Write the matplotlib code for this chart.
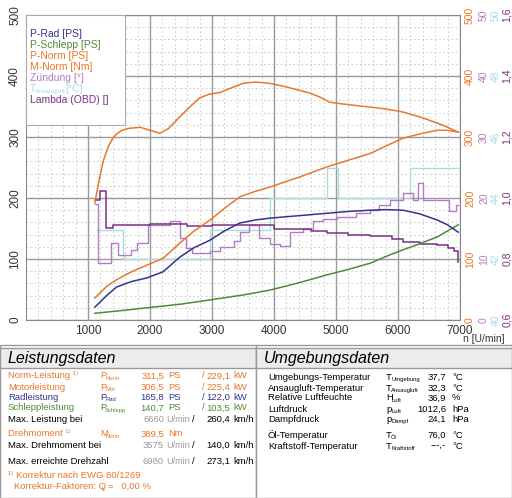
import matplotlib
matplotlib.use("Agg")
import matplotlib.pyplot as plt
from matplotlib.ticker import MultipleLocator
from matplotlib.patches import Rectangle

plt.rcParams['font.family'] = ['Liberation Sans', 'DejaVu Sans']

ORANGE = "#e8782a"; BLUE = "#34348f"; GREEN = "#4f8a35"
LPURP = "#b27cc4"; CYAN = "#a9dde2"; PURP = "#7a2f86"; GRAY = "#9a9a9a"

# --- data (left scale units 0..500) ---
rpm_s = [1110, 1180, 1250, 1330, 1400, 1460, 1550, 1650, 1840, 2000, 2160, 2300, 2480, 2650, 2800, 2950, 3130, 3300, 3500, 3700, 3935, 4200, 4580, 4750, 4900, 5200, 5550, 5800, 6080, 6350, 6630, 6800, 6970]
m_norm = [192, 230, 262, 285, 298, 305, 311, 314, 316, 311, 306, 314, 333, 350, 364, 370, 373, 380, 388, 390, 388, 382, 372, 365, 357, 353, 349, 346, 341, 333, 323, 316, 308]
rpm_p = [1110, 1300, 1460, 1700, 1950, 2210, 2480, 2700, 2970, 3200, 3450, 3700, 3935, 4400, 4855, 5200, 5550, 5800, 6080, 6350, 6630, 6800, 6970]
p_norm = [36, 55, 66, 79, 90, 101, 126, 145, 164, 183, 202, 211, 218, 234, 251, 262, 273, 285, 298, 305, 311, 311, 308]
p_rad = [21, 40, 54, 63, 69, 79, 103, 118, 131, 146, 159, 164, 167, 171, 175, 178, 180, 181, 180, 174, 164, 156, 144]
rpm_g = [1110, 1500, 1950, 2500, 2970, 3500, 3935, 4400, 4855, 5200, 5550, 5800, 6080, 6350, 6630, 6800, 6970]
p_schlepp = [11, 15, 20, 26, 33, 41, 49, 61, 74, 83, 93, 104, 115, 125, 136, 146, 156]

rpm_l = [1110, 1200, 1290, 1400, 2000, 2600, 3000, 3600, 4000, 4600, 4850, 5200, 5550, 5900, 6080, 6350, 6630, 6800, 6900, 6970]
lam = [197, 211, 151, 156, 158, 154, 156, 156, 150, 146, 143, 140, 138, 132, 128, 125, 123, 118, 113, 95]

rpm_z = [1110, 1160, 1370, 1480, 1690, 1790, 1960, 2330, 2480, 2580, 2680, 2970, 3130, 3350, 3450, 3600, 3760, 3935, 4100, 4260, 4470, 4630, 4790, 5010, 5330, 5550, 5700, 5870, 6080, 6240, 6320, 6400, 6830, 6940, 6970]
zuend = [190, 93, 126, 107, 115, 126, 156, 162, 134, 118, 110, 113, 120, 130, 145, 156, 134, 125, 122, 145, 150, 162, 166, 169, 175, 180, 188, 197, 208, 197, 224, 197, 178, 188, 188]

rpm_t = [1140, 1570, 2968, 3935, 4850, 5037, 6194, 6968]
t_ans = [148, 100, 148, 200, 249, 200, 249, 249]

fig = plt.figure(figsize=(5.12, 4.98), dpi=100)
W, H = 512, 498
ax = fig.add_axes([26/W, 1-320/H, 434/W, 305/H])
ax.set_xlim(0, 7000); ax.set_ylim(0, 500)
ax.set_xticks(range(1000, 8000, 1000))
ax.set_yticks(range(0, 600, 100))
ax.xaxis.set_minor_locator(MultipleLocator(200))
ax.yaxis.set_minor_locator(MultipleLocator(20))
ax.grid(which='major', color='#9a9a9a', lw=1)
ax.grid(which='minor', color='#c4c4c4', lw=0.6, ls=(0, (2, 3)))
ax.set_axisbelow(True)
for s in ax.spines.values(): s.set_color('#888888')
ax.tick_params(which='both', length=0, labelsize=8.5, colors='#333333')
for lab in ax.get_yticklabels(): lab.set_rotation(90); lab.set_va('center')

ax.plot(rpm_t, t_ans, drawstyle='steps-post', color=CYAN, lw=1)
ax.plot(rpm_z, zuend, drawstyle='steps-post', color=LPURP, lw=1)
ax.plot(rpm_l, lam, drawstyle='steps-post', color=PURP, lw=1.1)
ax.plot(rpm_g, p_schlepp, color=GREEN, lw=1.1)
ax.plot(rpm_p, p_rad, color=BLUE, lw=1.1)
ax.plot(rpm_p, p_norm, color=ORANGE, lw=1.1)
ax.plot(rpm_s, m_norm, color=ORANGE, lw=1.1)

def T(x, y, s, c='black', fs=6.8, ha='left', **kw):
    fig.text(x/W, 1-y/H, s, color=c, fontsize=fs, ha=ha, va='center', **kw)

def S(x, y, base, sub, c='black', fs=6.8, bw=5, **kw):
    T(x, y, base, c, fs, **kw)
    T(x + bw, y + 2.5, sub, c, fs*0.62, **kw)

leg = Rectangle((26/W, 1-125/H), 99/W, 110/H, transform=fig.transFigure, facecolor='white', edgecolor='#aaaaaa', lw=0.8, zorder=5)
fig.patches.append(leg)
legs = [("P-Rad [PS]", BLUE), ("P-Schlepp [PS]", GREEN), ("P-Norm [PS]", ORANGE), ("M-Norm [Nm]", ORANGE),
        ("Zündung [°]", LPURP), (None, CYAN), ("Lambda (OBD) []", PURP)]
for i, (t, c) in enumerate(legs):
    y = 34 + 11*i
    if t is None:
        S(30, y, "T", "Ansaugluft", c, fs=7.5, bw=5, zorder=6)
        T(65, y, "[°C]", c, fs=7.5, zorder=6)
    else:
        T(30, y, t, c, fs=7.5, zorder=6)

cols = [(470, ORANGE, ["0", "100", "200", "300", "400", "500"]),
        (484, LPURP, ["0", "10", "20", "30", "40", "50"]),
        (496, CYAN, ["40", "42", "44", "46", "48", "50"]),
        (507, PURP, ["0,6", "0,8", "1,0", "1,2", "1,4", "1,6"])]
for x, c, labs in cols:
    for i, l in enumerate(labs):
        y = 320 - i*61
        fig.text(x/W, 1-y/H, l, color=c, fontsize=7.5, rotation=90, ha='center', va='center')
fig.text(484/W, 1-339/H, "n [U/min]", fontsize=7.5, ha='center', va='center', color='#333333')

for x0 in (0, 256):
    fig.patches.append(Rectangle((x0/W, 0), 256/W, 153/H, transform=fig.transFigure, facecolor='white', edgecolor='#999999', lw=1))
    fig.patches.append(Rectangle((x0/W, 1-368/H), 256/W, 20/H, transform=fig.transFigure, facecolor='#ececec', edgecolor='#999999', lw=1))
T(8, 358, "Leistungsdaten", fs=11.5, style='italic')
T(264, 358, "Umgebungsdaten", fs=11.5, style='italic')

rows = [(376, "Norm-Leistung ¹⁾", ORANGE, "P", "Norm", "311,5", "229,1"),
        (387, "Motorleistung", ORANGE, "P", "Mot", "306,5", "225,4"),
        (397, "Radleistung", BLUE, "P", "Rad", "165,8", "122,0"),
        (408, "Schleppleistung", GREEN, "P", "Schlepp", "140,7", "103,5")]
for y, l, c, b, s, v1, v2 in rows:
    T(8, y, l, c); S(100, y, b, s, c); T(164, y, v1, c, ha='right'); T(168, y, "PS", c)
    T(202, y, "/", c); T(230, y, v2, c, ha='right'); T(233, y, "kW", c)
for y, l, v1, v2 in [(419, "Max. Leistung bei", "6660", "260,4"), (445, "Max. Drehmoment bei", "3575", "140,0"),
                     (461, "Max. erreichte Drehzahl", "6980", "273,1")]:
    T(8, y, l); T(164, y, v1, GRAY, ha='right'); T(166, y, "U/min", GRAY, fs=6.5); T(192, y, "/")
    T(230, y, v2, ha='right'); T(233, y, "km/h")
T(8, 434, "Drehmoment ¹⁾", ORANGE); S(100, 434, "M", "Norm", ORANGE, bw=6); T(164, 434, "389,5", ORANGE, ha='right'); T(168, 434, "Nm", ORANGE)
T(8, 475, "¹⁾ Korrektur nach EWG 80/1269", ORANGE)
T(14, 486, "Korrektur-Faktoren: Q", ORANGE); T(102, 488.5, "v", ORANGE, fs=4.5); T(108, 486, "=   0,00 %", ORANGE)

urows = [(377, "Umgebungs-Temperatur", "T", "Umgebung", "37,7", "°C", 5),
         (388, "Ansaugluft-Temperatur", "T", "Ansaugluft", "32,3", "°C", 5),
         (398, "Relative Luftfeuchte", "H", "Luft", "36,9", "%", 6),
         (409, "Luftdruck", "p", "Luft", "1012,6", "hPa", 5),
         (419, "Dampfdruck", "p", "Dampf", "24,1", "hPa", 5),
         (435, "Öl-Temperatur", "T", "Öl", "76,0", "°C", 5),
         (446, "Kraftstoff-Temperatur", "T", "Kraftstoff", "---,-", "°C", 5)]
for y, l, b, s, v, u, bw in urows:
    T(268, y, l); S(386, y, b, s, bw=bw); T(446, y, v, ha='right'); T(452, y, u)

fig.savefig("out.png", dpi=100)
